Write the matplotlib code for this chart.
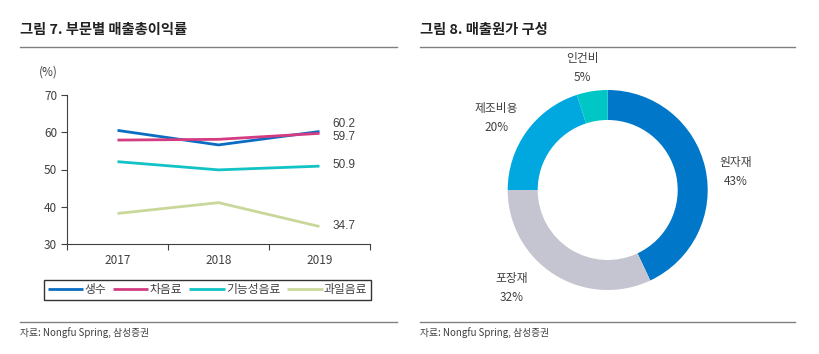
import matplotlib
matplotlib.use("Agg")
import matplotlib.pyplot as plt
from matplotlib.lines import Line2D

plt.rcParams['font.family'] = ['Noto Sans CJK KR', 'DejaVu Sans']

years = ['2017', '2018', '2019']
series_names = ['생수', '차음료', '기능성음료', '과일음료']
water = [60.5, 56.6, 60.2]
tea = [57.9, 58.1, 59.7]
functional = [52.1, 49.9, 50.9]
juice = [38.2, 41.1, 34.7]
series_values = [water, tea, functional, juice]
line_colors = ['#0A6DC2', '#D43C82', '#12C3C6', '#C9D89A']

cost_labels = ['원자재', '포장재', '제조비용', '인건비']
cost_values = [43, 32, 20, 5]
pie_colors = ['#0077C8', '#C4C5D1', '#00A8DF', '#00C6C6']

W, H = 819, 354
fig = plt.figure(figsize=(W / 100, H / 100), dpi=100)

def fx(px):
    return px / W

def fy(py):
    return 1 - py / H

txt = '#404040'

# Titles and rules
fig.text(fx(20), fy(30), '그림 7. 부문별 매출총이익률', fontsize=10.3, fontweight='bold',
         color='#222222', va='center', ha='left')
fig.text(fx(420), fy(30), '그림 8. 매출원가 구성', fontsize=10.3, fontweight='bold',
         color='#222222', va='center', ha='left')
for x0, x1 in [(20, 397), (420, 795)]:
    fig.add_artist(Line2D([fx(x0), fx(x1)], [fy(47), fy(47)], color='#808080', lw=1.0))
    fig.add_artist(Line2D([fx(x0), fx(x1)], [fy(322), fy(322)], color='#808080', lw=1.0))
fig.text(fx(20), fy(333), '자료: Nongfu Spring, 삼성증권', fontsize=7, color=txt, va='center', ha='left')
fig.text(fx(420), fy(333), '자료: Nongfu Spring, 삼성증권', fontsize=7, color=txt, va='center', ha='left')

# Line chart
ax = fig.add_axes([fx(67), fy(244), (370 - 67) / W, (244 - 95) / H])
xs = list(range(len(years)))
handles = []
for name, vals, c in zip(series_names, series_values, line_colors):
    h, = ax.plot(xs, vals, color=c, lw=2.0, label=name, solid_capstyle='butt')
    handles.append(h)
ax.set_xlim(-0.5, len(years) - 0.5)
ax.set_ylim(30, 70)
ax.set_yticks([30, 40, 50, 60, 70])
ax.set_xticks(xs)
ax.set_xticklabels(years)
ax.set_xticks([i - 0.5 for i in range(len(years) + 1)], minor=True)
ax.tick_params(axis='x', which='major', length=0, pad=7, labelsize=8.5, colors=txt)
ax.tick_params(axis='x', which='minor', length=4, width=0.8, color='#404040', direction='out')
ax.tick_params(axis='y', length=4, width=0.8, color='#404040', labelsize=8.5, labelcolor=txt, pad=3)
for s in ['top', 'right']:
    ax.spines[s].set_visible(False)
for s in ['left', 'bottom']:
    ax.spines[s].set_color('#404040')
    ax.spines[s].set_linewidth(0.8)
fig.text(fx(48), fy(72), '(%)', fontsize=8.5, color=txt, ha='center', va='center')
offsets = [2.0, -1.1, 0.3, 0]
for vals, off in zip(series_values, offsets):
    ax.text(2.13, vals[-1] + off, f'{vals[-1]:.1f}', fontsize=8.5, color=txt, va='center',
            ha='left', family=['Liberation Sans', 'DejaVu Sans'])

leg = fig.legend(handles=handles, loc='center', bbox_to_anchor=(fx(207.5), fy(290)),
                 ncol=4, frameon=True, fontsize=8.5, handlelength=3.0, handletextpad=0.1,
                 columnspacing=0.6, borderpad=0.3, fancybox=False)
leg.get_frame().set_edgecolor('#000000')
leg.get_frame().set_linewidth(1.0)
for t in leg.get_texts():
    t.set_color(txt)

# Donut chart
cx, cy, R = 607.7, 190, 100
box = R * 1.1
pax = fig.add_axes([fx(cx - box), fy(cy + box), 2 * box / W, 2 * box / H])
pax.pie(cost_values, colors=pie_colors, startangle=90, counterclock=False,
        radius=1.0, wedgeprops=dict(width=0.3, edgecolor='none'))
pax.set_xlim(-1.1, 1.1)
pax.set_ylim(-1.1, 1.1)
pax.set_aspect('equal')
pax.axis('off')
label_pos = [(1.28, 0.18), (-0.96, -0.98), (-1.11, 0.72), (-0.25, 1.22)]
for lab, v, (lx, ly) in zip(cost_labels, cost_values, label_pos):
    pax.text(lx, ly, f'{lab}\n{v}%', fontsize=8.5, color=txt, ha='center', va='center',
             linespacing=1.65, clip_on=False)

fig.savefig('out.png', dpi=100)
